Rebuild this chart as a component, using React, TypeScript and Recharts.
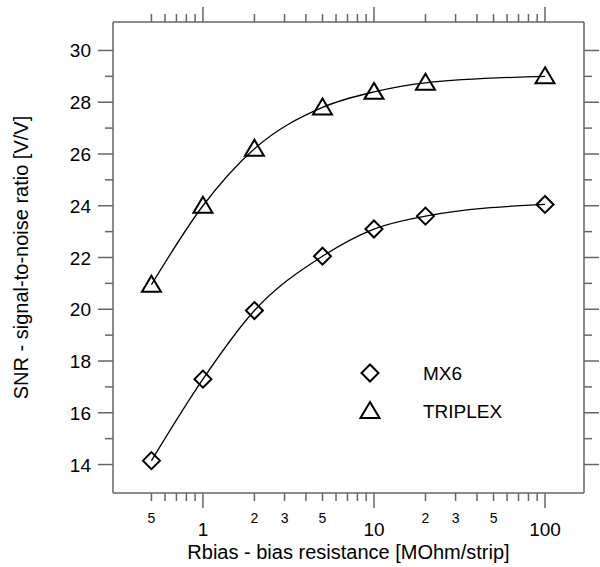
import React from 'react'
import { ComposedChart, Line, XAxis, YAxis, Label } from 'recharts'

// Rbias [MOhm/strip] and SNR values
const rbias = [0.5, 1, 2, 5, 10, 20, 100]
const mx6 = [14.15, 17.3, 19.95, 22.05, 23.1, 23.6, 24.05]
const triplex = [20.95, 24.0, 26.2, 27.8, 28.4, 28.75, 29.0]

const xTicks = [0.5, 0.6, 0.7, 0.8, 0.9, 1, 2, 3, 4, 5, 6, 7, 8, 9, 10, 20, 30, 40, 50, 60, 70, 80, 90, 100]
const xMajor = [1, 10, 100]
const xLabelValues = [0.5, 1, 2, 3, 5, 10, 20, 30, 50, 100]
const xLabelText = ['5', '1', '2', '3', '5', '10', '2', '3', '5', '100']

const yTicks = [14, 15, 16, 17, 18, 19, 20, 21, 22, 23, 24, 25, 26, 27, 28, 29, 30]
const yMajor = [14, 16, 18, 20, 22, 24, 26, 28, 30]

const mx6Data = rbias.map((x, i) => ({ x, y: mx6[i] }))
const triplexData = rbias.map((x, i) => ({ x, y: triplex[i] }))

const FONT = '"Liberation Sans", Arial, sans-serif'
const AXIS = '#666'
const X_DOMAIN = [0.298, 169]
const Y_DOMAIN = [12.9, 31.1]

function XTick({ x, y, payload, top }: any) {
  const v = payload.value
  const major = xMajor.includes(v)
  const len = major ? 15 : 8
  const dir = top ? -1 : 1
  const idx = xLabelValues.indexOf(v)
  return (
    <g>
      <line x1={x} x2={x} y1={y} y2={y + dir * len} stroke={AXIS} strokeWidth={1.5} />
      {!top && idx >= 0 && (
        <text
          x={x}
          y={major ? y + 43 : y + 30}
          textAnchor="middle"
          fontSize={major ? 19 : 14}
          fontFamily={FONT}
          fill="#000"
        >
          {xLabelText[idx]}
        </text>
      )}
    </g>
  )
}

function YTick({ x, y, payload, right }: any) {
  const v = payload.value
  const major = yMajor.includes(v)
  const len = major ? 15 : 8
  const dir = right ? 1 : -1
  return (
    <g>
      <line x1={x} x2={x + dir * len} y1={y} y2={y} stroke={AXIS} strokeWidth={1.5} />
      {!right && major && (
        <text x={x - 22} y={y + 7} textAnchor="end" fontSize={19} fontFamily={FONT} fill="#000">
          {v}
        </text>
      )}
    </g>
  )
}

function Diamond({ cx, cy }: { cx: number; cy: number }) {
  const r = 8.5
  return (
    <path
      d={`M${cx},${cy - r}L${cx + r},${cy}L${cx},${cy + r}L${cx - r},${cy}Z`}
      fill="none"
      stroke="#000"
      strokeWidth={2}
    />
  )
}

function Triangle({ cx, cy }: { cx: number; cy: number }) {
  return (
    <path
      d={`M${cx},${cy - 9}L${cx + 9.5},${cy + 7}L${cx - 9.5},${cy + 7}Z`}
      fill="none"
      stroke="#000"
      strokeWidth={2}
    />
  )
}

export default function App() {
  return (
    <div style={{ position: 'absolute', left: 0, top: 0, width: 600, height: 567, background: '#fff' }}>
      <ComposedChart width={600} height={567} margin={{ top: 0, right: 0, bottom: 0, left: 0 }}>
        <XAxis
          xAxisId="b"
          dataKey="x"
          type="number"
          scale="log"
          domain={X_DOMAIN}
          allowDataOverflow
          ticks={xTicks}
          interval={0}
          height={74}
          tickSize={0}
          tickMargin={0}
          tickLine={false}
          axisLine={{ stroke: AXIS, strokeWidth: 1.5 }}
          tick={(p: any) => <XTick {...p} />}
        >
          <Label
            content={({ viewBox }: any) => (
              <text
                x={viewBox.x + viewBox.width / 2}
                y={viewBox.y + 66}
                textAnchor="middle"
                fontSize={20}
                fontFamily={FONT}
                fill="#000"
              >
                Rbias - bias resistance [MOhm/strip]
              </text>
            )}
          />
        </XAxis>
        <XAxis
          xAxisId="t"
          orientation="top"
          dataKey="x"
          type="number"
          scale="log"
          domain={X_DOMAIN}
          allowDataOverflow
          ticks={xTicks}
          interval={0}
          height={22}
          tickSize={0}
          tickMargin={0}
          tickLine={false}
          axisLine={{ stroke: AXIS, strokeWidth: 1.5 }}
          tick={(p: any) => <XTick {...p} top />}
        />
        <YAxis
          yAxisId="l"
          type="number"
          domain={Y_DOMAIN}
          allowDataOverflow
          ticks={yTicks}
          interval={0}
          width={113}
          tickSize={0}
          tickMargin={0}
          tickLine={false}
          axisLine={{ stroke: AXIS, strokeWidth: 1.5 }}
          tick={(p: any) => <YTick {...p} />}
        >
          <Label
            content={({ viewBox }: any) => {
              const cy = viewBox.y + viewBox.height / 2
              return (
                <text
                  x={28}
                  y={cy}
                  transform={`rotate(-90 28 ${cy})`}
                  textAnchor="middle"
                  fontSize={20}
                  fontFamily={FONT}
                  fill="#000"
                >
                  SNR - signal-to-noise ratio [V/V]
                </text>
              )
            }}
          />
        </YAxis>
        <YAxis
          yAxisId="r"
          orientation="right"
          type="number"
          domain={Y_DOMAIN}
          allowDataOverflow
          ticks={yTicks}
          interval={0}
          width={16}
          tickSize={0}
          tickMargin={0}
          tickLine={false}
          axisLine={{ stroke: AXIS, strokeWidth: 1.5 }}
          tick={(p: any) => <YTick {...p} right />}
        />
        <Line
          xAxisId="b"
          yAxisId="l"
          data={mx6Data}
          dataKey="y"
          type="monotone"
          stroke="#000"
          strokeWidth={1.3}
          dot={(p: any) => <Diamond key={`m-${p.index}`} cx={p.cx} cy={p.cy} />}
          activeDot={false}
          isAnimationActive={false}
        />
        <Line
          xAxisId="b"
          yAxisId="l"
          data={triplexData}
          dataKey="y"
          type="monotone"
          stroke="#000"
          strokeWidth={1.3}
          dot={(p: any) => <Triangle key={`t-${p.index}`} cx={p.cx} cy={p.cy} />}
          activeDot={false}
          isAnimationActive={false}
        />
        <Line
          xAxisId="t"
          yAxisId="r"
          data={triplexData}
          dataKey="y"
          stroke="none"
          dot={false}
          activeDot={false}
          legendType="none"
          isAnimationActive={false}
        />
      </ComposedChart>
      <svg
        width={200}
        height={80}
        style={{ position: 'absolute', left: 350, top: 352, fontFamily: FONT }}
      >
        <Diamond cx={20} cy={21} />
        <text x={73} y={28} fontSize={19} fill="#000">MX6</text>
        <Triangle cx={20} cy={59} />
        <text x={73} y={66} fontSize={19} fill="#000">TRIPLEX</text>
      </svg>
    </div>
  )
}
